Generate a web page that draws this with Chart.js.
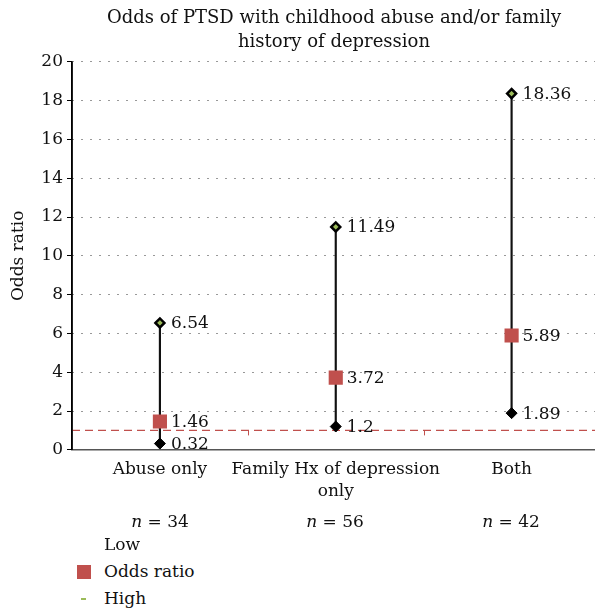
<!DOCTYPE html>
<html>
<head>
<meta charset="utf-8">
<script src="https://cdn.jsdelivr.net/npm/chart.js@4.4.1/dist/chart.umd.min.js"></script>
<style>
  body { margin: 0; background: #fff; font-family: "DejaVu Serif", serif; }
  #wrap { position: relative; width: 595px; height: 613px; overflow: hidden; }
  #chart { position: absolute; left: 0; top: 0; }
  .nlab { position: absolute; top: 511px; font-size: 17px; color: #111; transform: translateX(-50%); white-space: nowrap; }
  .leg { position: absolute; left: 104px; font-size: 17px; color: #111; }
  .mk { position: absolute; }
</style>
</head>
<body>
<div id="wrap">
  <canvas id="chart" width="606" height="512"></canvas>
  <div class="nlab" style="left:160px"><i>n</i> = 34</div>
  <div class="nlab" style="left:335px"><i>n</i> = 56</div>
  <div class="nlab" style="left:511px"><i>n</i> = 42</div>
  <div class="leg" style="top:534px">Low</div>
  <div class="mk" style="left:77px;top:565px;width:14px;height:14px;background:#c0504d"></div>
  <div class="leg" style="top:561px">Odds ratio</div>
  <div class="mk" style="left:81px;top:598px;width:5px;height:2px;background:#9bbb59"></div>
  <div class="leg" style="top:588px">High</div>
</div>
<script>
// groups and values
const categories = [['Abuse only'], ['Family Hx of depression', 'only'], ['Both']];
const lowValues = [0.32, 1.2, 1.89];
const oddsValues = [1.46, 3.72, 5.89];
const highValues = [6.54, 11.49, 18.36];
const refLine = 1;

const xMin = 0.5, xMax = 3.48;
const xs = categories.map((c, i) => i + 1);
const FONT = '"DejaVu Serif", serif';

// value labels to the right of each marker
const valueLabels = {
  id: 'valueLabels',
  afterDatasetsDraw(chart) {
    const ctx = chart.ctx;
    ctx.save();
    ctx.font = '17px ' + FONT;
    ctx.fillStyle = '#111';
    ctx.textBaseline = 'middle';
    chart.data.datasets.forEach((ds, di) => {
      if (!ds.showLabels) return;
      chart.getDatasetMeta(di).data.forEach((pt, i) => {
        ctx.fillText(String(ds.data[i].y), pt.x + 11, pt.y + 1);
      });
    });
    // little red ticks of the reference line between groups
    const sx = chart.scales.x, sy = chart.scales.y;
    ctx.strokeStyle = '#c0504d';
    ctx.lineWidth = 1;
    [1.5, 2.5].forEach(v => {
      const px = Math.round(sx.getPixelForValue(v)) + 0.5;
      const py = sy.getPixelForValue(refLine);
      ctx.beginPath();
      ctx.moveTo(px, py);
      ctx.lineTo(px, py + 5);
      ctx.stroke();
    });
    // solid y axis line
    const a = chart.chartArea;
    ctx.strokeStyle = '#000';
    ctx.lineWidth = 1.5;
    ctx.beginPath();
    ctx.moveTo(a.left, a.top);
    ctx.lineTo(a.left, a.bottom);
    ctx.stroke();
    ctx.restore();
  }
};

new Chart(document.getElementById('chart'), {
  data: {
    datasets: [
      {
        type: 'line',
        label: 'OR = 1',
        data: [{ x: xMin, y: refLine }, { x: xMax, y: refLine }],
        borderColor: '#c0504d',
        borderWidth: 1.2,
        borderDash: [8, 5],
        pointRadius: 0,
        order: 5
      },
      {
        type: 'bar',
        label: 'range',
        data: xs.map((x, i) => ({ x: x, y: [lowValues[i], highValues[i]] })),
        backgroundColor: '#111',
        barThickness: 1.5,
        order: 4
      },
      {
        type: 'scatter',
        label: 'Low',
        data: xs.map((x, i) => ({ x: x, y: lowValues[i] })),
        pointStyle: 'rectRot',
        pointRadius: 5.5,
        backgroundColor: '#000',
        borderColor: '#000',
        showLabels: true,
        order: 2
      },
      {
        type: 'scatter',
        label: 'Odds ratio',
        data: xs.map((x, i) => ({ x: x, y: oddsValues[i] })),
        pointStyle: 'rect',
        pointRadius: 10,
        backgroundColor: '#c0504d',
        borderColor: '#c0504d',
        borderWidth: 0,
        showLabels: true,
        order: 1
      },
      {
        type: 'scatter',
        label: 'High',
        data: xs.map((x, i) => ({ x: x, y: highValues[i] })),
        pointStyle: 'rectRot',
        pointRadius: 4.5,
        backgroundColor: '#9bbb59',
        borderColor: '#000',
        borderWidth: 2.5,
        showLabels: true,
        order: 3
      }
    ]
  },
  options: {
    responsive: false,
    animation: false,
    layout: { padding: { top: 7, right: 0, bottom: 0, left: 0 } },
    plugins: {
      legend: { display: false },
      tooltip: { enabled: false },
      title: {
        display: true,
        fullSize: false,
        text: ['Odds of PTSD with childhood abuse and/or family', 'history of depression'],
        color: '#111',
        font: { family: FONT, size: 18, weight: 'normal', lineHeight: 1.3 },
        padding: { top: 0, bottom: 8 }
      }
    },
    scales: {
      x: {
        type: 'linear',
        min: xMin,
        max: xMax,
        offset: false,
        afterBuildTicks(scale) { scale.ticks = xs.map(v => ({ value: v })); },
        grid: { offset: false, drawOnChartArea: false, drawTicks: false },
        border: { color: '#555', width: 1.5 },
        ticks: {
          color: '#111',
          padding: 9,
          autoSkip: false,
          maxRotation: 0,
          font: { family: FONT, size: 17, lineHeight: 1.3 },
          callback: v => categories[v - 1] || ''
        }
      },
      y: {
        min: 0,
        max: 20,
        afterFit(scale) { scale.width = 72; },
        ticks: {
          stepSize: 2,
          color: '#111',
          padding: 4,
          font: { family: FONT, size: 17 }
        },
        grid: {
          color: '#333',
          lineWidth: 1,
          tickLength: 5,
          tickColor: '#000',
          tickBorderDash: []
        },
        border: { color: '#000', width: 1.5, dash: [1, 8] },
        title: {
          display: true,
          text: 'Odds ratio',
          color: '#111',
          font: { family: FONT, size: 17 },
          padding: { top: 8, bottom: 0 }
        }
      }
    }
  },
  plugins: [valueLabels]
});
</script>
</body>
</html>
